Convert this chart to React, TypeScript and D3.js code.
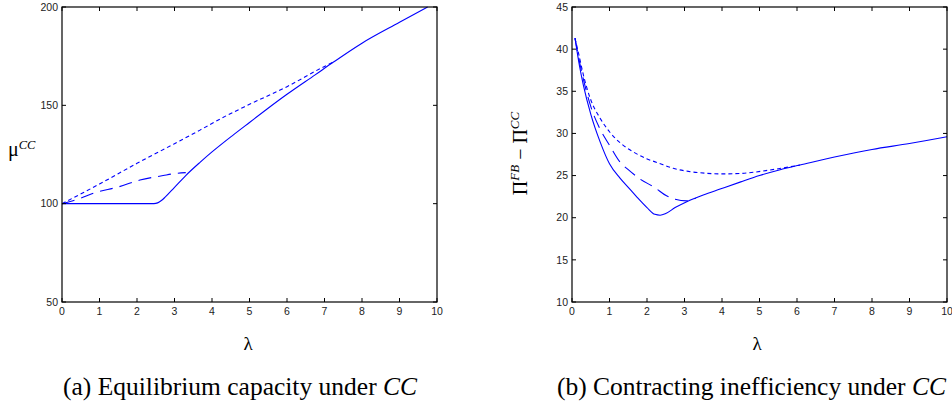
import React from "react";
import * as d3 from "d3";

// ---------- data ----------
const xTicks = [0, 1, 2, 3, 4, 5, 6, 7, 8, 9, 10];
const yTicksA = [50, 100, 150, 200];
const yTicksB = [10, 15, 20, 25, 30, 35, 40, 45];

// Panel (a): equilibrium capacity mu^CC vs lambda
const aSolidX = [0, 2.45, 2.55, 2.65, 2.75, 3.0, 3.3, 3.68, 4.0, 4.57, 5.0, 5.46, 6.0, 6.75, 7.24, 8.0, 9.0, 9.75];
const aSolidY = [100, 100, 100.4, 101.6, 103.3, 108.3, 114.3, 121, 126.3, 135, 141.3, 148, 155.6, 165.5, 172, 181.6, 192.2, 200];
const aShortX = [0, 1, 2, 3, 3.68, 4.21, 5, 6, 7, 7.24];
const aShortY = [100, 110, 120.5, 130.5, 137.4, 143, 150.5, 159.5, 169.8, 172];
const aLongX = [0, 0.5, 0.835, 1.5, 2.08, 2.7, 3.0, 3.3];
const aLongY = [100, 102.8, 105.3, 108.5, 112, 114.3, 115.3, 115.8];

// Panel (b): contracting inefficiency vs lambda
const bSolidX = [0.08, 0.2, 0.3, 0.5, 0.75, 1.0, 1.28, 1.5, 1.72, 2.0, 2.21, 2.35, 2.5, 2.75, 3.06, 3.5, 3.95, 4.5, 5, 5.55, 6.08, 7, 8, 9, 10];
const bSolidY = [41.3, 38, 35.8, 32.3, 29, 26.4, 24.7, 23.6, 22.5, 21.2, 20.4, 20.3, 20.5, 21.2, 21.9, 22.7, 23.4, 24.25, 25.0, 25.7, 26.25, 27.2, 28.1, 28.8, 29.6];
const bLongX = [0.08, 0.2, 0.3, 0.5, 0.75, 1.0, 1.28, 1.5, 1.81, 2.2, 2.52, 2.75, 3.06, 3.3];
const bLongY = [41.3, 38.5, 36.5, 33.2, 30.5, 28.6, 26.6, 25.7, 24.6, 23.6, 22.6, 22.2, 22.0, 22.3];
const bShortX = [0.08, 0.2, 0.3, 0.5, 0.75, 1.0, 1.28, 1.6, 1.99, 2.3, 2.7, 3.1, 3.59, 4.0, 4.48, 5.28, 6.08];
const bShortY = [41.3, 39, 37, 34, 31.8, 30.2, 28.9, 27.9, 27.0, 26.5, 25.86, 25.5, 25.27, 25.2, 25.25, 25.66, 26.25];

const BLUE = "#0000ff";
const TICKFONT = "'Liberation Sans', Arial, sans-serif";
const SERIF = "'Liberation Serif', 'Times New Roman', serif";

type Series = { xs: number[]; ys: number[]; dash?: string };

function Panel(props: {
  x0: number; x1: number; y0: number; y1: number;
  yDomain: [number, number]; yTicks: number[]; series: Series[];
}) {
  const { x0, x1, y0, y1, yDomain, yTicks, series } = props;
  const x = d3.scaleLinear().domain([0, 10]).range([x0, x1]);
  const y = d3.scaleLinear().domain(yDomain).range([y1, y0]);
  const line = d3
    .line<[number, number]>()
    .x((d) => x(d[0]))
    .y((d) => y(d[1]))
    .curve(d3.curveMonotoneX);
  const tl = 4;
  return (
    <g>
      {series.map((s, i) => (
        <path
          key={i}
          d={line(s.xs.map((v, j) => [v, s.ys[j]] as [number, number])) || ""}
          fill="none"
          stroke={BLUE}
          strokeWidth={1.1}
          strokeDasharray={s.dash}
        />
      ))}
      <rect x={x0} y={y0} width={x1 - x0} height={y1 - y0} fill="none" stroke="#000" strokeWidth={1.2} />
      {xTicks.map((t) => (
        <g key={"x" + t}>
          <line x1={x(t)} x2={x(t)} y1={y1} y2={y1 - tl} stroke="#000" strokeWidth={1} />
          <line x1={x(t)} x2={x(t)} y1={y0} y2={y0 + tl} stroke="#000" strokeWidth={1} />
          <text x={x(t)} y={y1 + 13} textAnchor="middle" fontFamily={TICKFONT} fontSize={10.5} fill="#222">
            {t}
          </text>
        </g>
      ))}
      {yTicks.map((t) => (
        <g key={"y" + t}>
          <line x1={x0} x2={x0 + tl} y1={y(t)} y2={y(t)} stroke="#000" strokeWidth={1} />
          <line x1={x1} x2={x1 - tl} y1={y(t)} y2={y(t)} stroke="#000" strokeWidth={1} />
          <text x={x0 - 4} y={y(t) + 3.7} textAnchor="end" fontFamily={TICKFONT} fontSize={10.5} fill="#222">
            {t}
          </text>
        </g>
      ))}
    </g>
  );
}

export default function App() {
  return (
    <svg
      width={952}
      height={406}
      style={{ position: "absolute", left: 0, top: 0, background: "#fff" }}
    >
      <Panel
        x0={62} x1={437} y0={7} y1={302}
        yDomain={[50, 200]} yTicks={yTicksA}
        series={[
          { xs: aSolidX, ys: aSolidY },
          { xs: aShortX, ys: aShortY, dash: "4,3" },
          { xs: aLongX, ys: aLongY, dash: "13,7" },
        ]}
      />
      <Panel
        x0={572} x1={947} y0={7} y1={302}
        yDomain={[10, 45]} yTicks={yTicksB}
        series={[
          { xs: bSolidX, ys: bSolidY },
          { xs: bShortX, ys: bShortY, dash: "4,3" },
          { xs: bLongX, ys: bLongY, dash: "13,7" },
        ]}
      />
      {/* y label (a) */}
      <text x={8} y={156} fontFamily={SERIF} fontSize={20} fill="#000">
        μ<tspan fontStyle="italic" fontSize={12.5} dy={-7}>CC</tspan>
      </text>
      {/* y label (b) */}
      <text
        transform="translate(527,153.5) rotate(-90)"
        textAnchor="middle"
        fontFamily={SERIF}
        fontSize={20}
        fill="#000"
      >
        Π<tspan fontStyle="italic" fontSize={13} dy={-8}>FB</tspan>
        <tspan dy={8}> − Π</tspan>
        <tspan fontStyle="italic" fontSize={13} dy={-8}>CC</tspan>
      </text>
      {/* x labels */}
      <text x={248} y={350} textAnchor="middle" fontFamily={SERIF} fontSize={19} fill="#000">λ</text>
      <text x={757} y={350} textAnchor="middle" fontFamily={SERIF} fontSize={19} fill="#000">λ</text>
      {/* captions */}
      <text x={240} y={395} textAnchor="middle" fontFamily={SERIF} fontSize={25.5} fill="#000">
        (a) Equilibrium capacity under <tspan fontStyle="italic">CC</tspan>
      </text>
      <text x={751.5} y={395} textAnchor="middle" fontFamily={SERIF} fontSize={25.5} fill="#000">
        (b) Contracting inefficiency under <tspan fontStyle="italic">CC</tspan>
      </text>
    </svg>
  );
}
